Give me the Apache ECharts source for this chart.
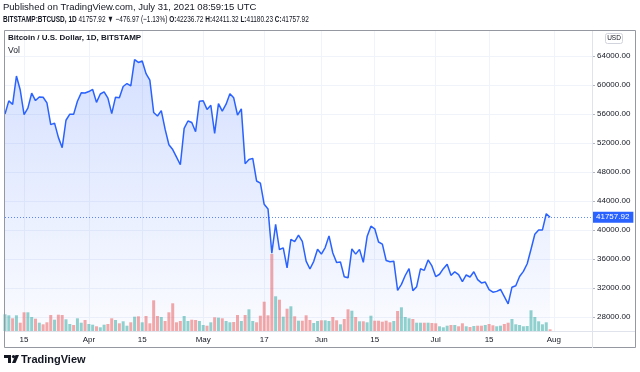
<!DOCTYPE html>
<html><head><meta charset="utf-8">
<script src="https://cdn.jsdelivr.net/npm/echarts@6/dist/echarts.min.js"></script>
<style>html,body{margin:0;padding:0;background:#fff}#c{width:640px;height:372px}</style>
</head><body><div id="c"></div>
<script>
// ---- data ----
const startDate = [2021, 2, 10]; // 2021-03-10 (first bar)
const totalSlots = 155;          // days shown on the time scale (incl. empty right margin)
// daily closes, 2021-03-10 .. 2021-07-31
const pricesMar = [56008, 57806, 57333, 61243, 59302, 55907, 56804, 58870, 57858, 58346, 58313, 57523, 54529, 54738, 52775, 51350, 55137, 55973, 55950, 57750, 58918, 58900];
const pricesApr = [59095, 59384, 57604, 58758, 59057, 58192, 56048, 58323, 58245, 59793, 60204, 59893, 63503, 63109, 63314, 61572, 60683, 56216, 55724, 56473, 53906, 51762, 51093, 50050, 49004, 54021, 55033, 54824, 53555, 57750];
const pricesMay = [57828, 56631, 57200, 53333, 57424, 56397, 57356, 58803, 58232, 55859, 56704, 49150, 49716, 49880, 46760, 46456, 43538, 42909, 36800, 40784, 37304, 37536, 34770, 38705, 38402, 39294, 38436, 35697, 34616, 35678, 37332];
const pricesJun = [36684, 37575, 39188, 36825, 35520, 35600, 33553, 33404, 37388, 36675, 37331, 35546, 39098, 40530, 40170, 38347, 38054, 35787, 35615, 35698, 31676, 32505, 33723, 34663, 31637, 32186, 34649, 34434, 35867, 35041];
const pricesJul = [33572, 33897, 34668, 35287, 33746, 34235, 33855, 32877, 33798, 33520, 34240, 33155, 32702, 32822, 31780, 31421, 31534, 31796, 30817, 29807, 32110, 32313, 33581, 34292, 35350, 37337, 39406, 39995, 40008, 42236.72, 41757.92];
const prevClose = 54824; // close of 2021-03-09
// volume (relative units)
const volMar = [16.7, 15.7, 12.7, 15.7, 8.3, 18.7, 18.7, 14, 12.3, 8.3, 6.7, 8.7, 16, 11.3, 16.3, 16, 11.7, 7, 6, 12.7, 8.3, 11];
const volApr = [7, 6.3, 4.7, 3.7, 6.3, 7, 12.7, 11, 7.7, 9.7, 5.3, 8.7, 14.3, 14.7, 8.7, 15, 7.7, 30.7, 15, 14, 10, 18.7, 27.7, 8.7, 10, 15, 10, 11.3, 11, 10];
const volMay = [6, 5.3, 8.7, 13.7, 13.3, 12.7, 10, 8.7, 9, 16, 10, 16, 21.7, 10, 8.7, 15.3, 29.3, 15.7, 77, 34.7, 31.3, 14.3, 22.3, 24.7, 14.7, 10.3, 10.3, 15.7, 11, 8, 10];
const volJun = [10.7, 10.7, 10, 14, 10.7, 6.7, 12, 21.7, 20.3, 14, 9.7, 9.7, 8.7, 15.3, 10.3, 10.3, 9.3, 10.3, 8.7, 10, 20, 23.7, 14, 12.7, 12, 8.3, 8.3, 8.3, 8.3, 8];
const volJul = [7.7, 4.7, 3.7, 5.3, 6, 6, 4.7, 7.7, 4.7, 4, 5, 5.3, 5.3, 6, 7, 5.7, 4.7, 5.3, 7, 8.3, 12, 6.7, 6, 4.7, 5, 20.7, 14, 9.7, 6.7, 8.7, 1.7];
// axis ticks
const priceAxis = { min: 28000, max: 64000, step: 4000 };
const dateTickLabels = {
  '2021-03-15': '15', '2021-04-01': 'Apr', '2021-04-15': '15', '2021-05-01': 'May',
  '2021-05-17': '17', '2021-06-01': 'Jun', '2021-06-15': '15', '2021-07-01': 'Jul',
  '2021-07-15': '15', '2021-08-01': 'Aug'
};
// header values
const quote = { symbol: 'BITSTAMP:BTCUSD, 1D', last: '41757.92', change: '−476.97', pct: '(−1.13%)',
  O: '42236.72', H: '42411.32', L: '41180.23', C: '41757.92' };
const publishedText = 'Published on TradingView.com, July 31, 2021 08:59:15 UTC';
const titleText = 'Bitcoin / U.S. Dollar, 1D, BITSTAMP';

// ---- build ----
const prices = [].concat(pricesMar, pricesApr, pricesMay, pricesJun, pricesJul);
const volumes = [].concat(volMar, volApr, volMay, volJun, volJul);
const dates = [];
for (let i = 0; i < totalSlots; i++) {
  const d = new Date(Date.UTC(startDate[0], startDate[1], startDate[2] + i));
  dates.push(d.toISOString().slice(0, 10));
}
const UP = 'rgba(38,166,154,0.5)', DOWN = 'rgba(239,83,80,0.5)';
const volData = volumes.map((v, i) => {
  const prev = i === 0 ? prevClose : prices[i - 1];
  return { value: v, itemStyle: { color: prices[i] >= prev ? UP : DOWN } };
});
const last = prices[prices.length - 1];
const FONT = 'Liberation Sans';
const DARK = '#131722', RED = '#ef5350', BLUE = '#2962ff';
const isTick = (i, v) => Object.prototype.hasOwnProperty.call(dateTickLabels, v);
const gridLine = '#f0f3fa';

const chart = echarts.init(document.getElementById('c'), null, { renderer: 'canvas' });
chart.setOption({
  animation: false,
  backgroundColor: '#ffffff',
  textStyle: { fontFamily: FONT },
  grid: [
    { left: 5, right: 48, top: 56, bottom: 372 - 317 },
    { left: 5, right: 48, top: 31, bottom: 372 - 331 }
  ],
  xAxis: [
    { gridIndex: 0, type: 'category', data: dates, boundaryGap: false, show: false },
    { gridIndex: 1, type: 'category', data: dates, boundaryGap: false,
      axisLine: { show: false }, axisTick: { show: false },
      axisLabel: { interval: isTick, formatter: v => dateTickLabels[v] || '', color: DARK, fontSize: 8, margin: 5 },
      splitLine: { show: true, interval: isTick, lineStyle: { color: gridLine, width: 1 } } }
  ],
  yAxis: [
    { gridIndex: 0, type: 'value', position: 'right', min: priceAxis.min, max: priceAxis.max, interval: priceAxis.step,
      axisLine: { show: false }, axisTick: { show: true, length: 3, lineStyle: { color: '#b2b5be' } },
      axisLabel: { formatter: v => v.toFixed(2), color: DARK, fontSize: 8, margin: 5 },
      splitLine: { lineStyle: { color: gridLine, width: 1 } } },
    { gridIndex: 1, type: 'value', min: 0, max: 300, show: false, splitLine: { show: false } }
  ],
  series: [
    { type: 'bar', xAxisIndex: 1, yAxisIndex: 1, data: volData, barWidth: 3, silent: true, z: 1 },
    { type: 'line', xAxisIndex: 0, yAxisIndex: 0, data: prices, showSymbol: false, symbol: 'none', clip: false, z: 2,
      lineStyle: { color: BLUE, width: 1.5 },
      areaStyle: { origin: priceAxis.min - (priceAxis.max - priceAxis.min) * 14 / 261,
        color: new echarts.graphic.LinearGradient(0, 0, 0, 1, [
          { offset: 0, color: 'rgba(41,98,255,0.28)' }, { offset: 1, color: 'rgba(41,98,255,0.03)' }]) },
      markLine: { silent: true, symbol: 'none', animation: false,
        lineStyle: { color: 'rgba(41,98,255,0.75)', type: [1, 2], width: 1 },
        label: { position: 'end', distance: 0, formatter: () => last.toFixed(2), color: '#fff', backgroundColor: BLUE,
          fontSize: 8, padding: [2, 4, 1, 4], fontFamily: FONT },
        data: [{ yAxis: last }] } }
  ],
  graphic: [
    { type: 'rect', shape: { x: 4.5, y: 30.5, width: 631, height: 317 }, style: { fill: 'none', stroke: '#9598a1', lineWidth: 1 }, z: 10 },
    { type: 'line', shape: { x1: 592.5, y1: 31, x2: 592.5, y2: 348 }, style: { stroke: '#e0e3eb', lineWidth: 1 }, z: 10 },
    { type: 'line', shape: { x1: 5, y1: 331.5, x2: 635, y2: 331.5 }, style: { stroke: '#e0e3eb', lineWidth: 1 }, z: 10 },
    { type: 'text', left: 3, top: 2, z: 20, style: { text: publishedText, fontSize: 9.5, fontFamily: FONT, fill: DARK } },
    { type: 'text', x: 3, y: 15, scaleX: 0.72, z: 20, style: {
      text: '{b|' + quote.symbol + '} ' + quote.last + ' {r|▼} ' + quote.change + ' ' + quote.pct +
        ' {b|O:}{r|' + quote.O + '} {b|H:}{r|' + quote.H + '} {b|L:}{r|' + quote.L + '} {b|C:}{r|' + quote.C + '}',
      fontSize: 9, fontFamily: FONT, fill: DARK,
      rich: { b: { fontWeight: 'bold', fontSize: 9, fontFamily: FONT, color: DARK }, r: { fontSize: 9, fontFamily: FONT, color: RED } } } },
    { type: 'text', left: 8, top: 34, z: 20, style: { text: titleText, fontSize: 8, fontWeight: 'bold', fontFamily: FONT, fill: DARK } },
    { type: 'text', left: 8, top: 46, z: 20, style: { text: 'Vol', fontSize: 8.5, fontFamily: FONT, fill: DARK } },
    { type: 'group', left: 605, top: 33, z: 20, children: [
      { type: 'rect', shape: { x: 0, y: 0, width: 17, height: 10, r: 2 }, style: { fill: '#fff', stroke: '#d1d4dc', lineWidth: 1 } },
      { type: 'text', x: 8.5, y: 5, style: { text: 'USD', fontSize: 6.5, fontFamily: FONT, fill: DARK, align: 'center', verticalAlign: 'middle' } }
    ] },
    { type: 'group', left: 4, top: 355, children: [
      { type: 'polygon', shape: { points: [[0, 1], [7, 1], [7, 9], [4, 9], [4, 4], [0, 4]] }, style: { fill: DARK } },
      { type: 'circle', shape: { cx: 9.5, cy: 2.6, r: 1.6 }, style: { fill: DARK } },
      { type: 'polygon', shape: { points: [[11.5, 1], [15, 1], [11.5, 9], [8, 9]] }, style: { fill: DARK } }
    ] },
    { type: 'text', left: 21, top: 354, style: { text: 'TradingView', fontSize: 11, fontWeight: 'bold', fontFamily: FONT, fill: DARK } }
  ]
});
</script></body></html>
